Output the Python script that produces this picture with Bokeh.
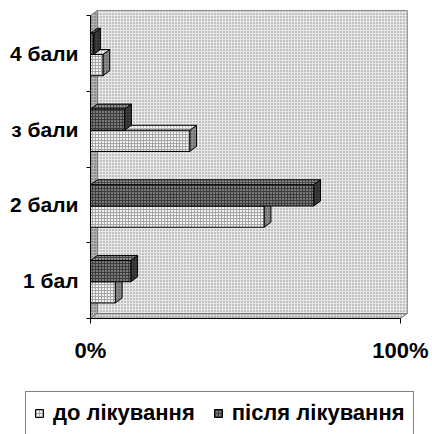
from bokeh.plotting import figure
from bokeh.models import Range1d, FixedTicker, Legend, LegendItem
from bokeh.embed import file_html
from bokeh.resources import INLINE

# Score groups (bottom to top) and share of patients in each, %
categories = ["1 бал", "2 бали", "з бали", "4 бали"]
before = [8, 56, 32, 4]      # до лікування
after = [13, 72, 11, 1]      # після лікування
series_names = ["до лікування", "після лікування"]
x_ticks = [0, 100]
x_tick_labels = ["0%", "100%"]

FONT = "Liberation Sans"
DX, DY = 2.2, 0.066          # depth offset of the 3D faces (data units)
BAR_H = 0.28                 # bar thickness within a category band

n = len(categories)
pos = list(range(1, n + 1))

# The frame fills the whole canvas; the axes are pinned at x=0 / y=0.5 so
# the tick labels and the legend all sit inside it.
p = figure(width=432, height=434, output_backend="svg", toolbar_location=None,
           x_range=Range1d(-29.03, 110.32), y_range=Range1d(-1.031, 4.698),
           min_border=0)
p.outline_line_color = None
p.grid.visible = False
p.background_fill_color = "white"
p.border_fill_color = "white"

# back wall, left side wall and floor of the 3D box
wall_style = dict(hatch_pattern=".", hatch_scale=3, hatch_weight=1)
p.patch([DX, 100 + DX, 100 + DX, DX],
        [0.5 + DY, 0.5 + DY, 4.5 + DY, 4.5 + DY],
        fill_color="#e8e8e8", hatch_color="#858585", line_color="#8c8c8c",
        line_width=1, **wall_style)
p.patch([0, 0, DX, DX], [0.5, 4.5, 4.5 + DY, 0.5 + DY],
        fill_color="#b4b4b4", hatch_color="#555555", line_color="#777777",
        line_width=1, **wall_style)
p.patch([0, 100, 100 + DX, DX], [0.5, 0.5, 0.5 + DY, 0.5 + DY],
        fill_color="#d4d4d4", hatch_color="#6a6a6a", line_color="#777777",
        line_width=1, **wall_style)


def bar3d(values, offset, front, top, side):
    centers = [c + offset for c in pos]
    lo = [c - BAR_H / 2 for c in centers]
    hi = [c + BAR_H / 2 for c in centers]
    side_xs = [[v, v, v + DX, v + DX] for v in values]
    side_ys = [[b, t, t + DY, b + DY] for b, t in zip(lo, hi)]
    top_xs = [[0, v, v + DX, DX] for v in values]
    top_ys = [[t, t, t + DY, t + DY] for t in hi]
    p.patches(side_xs, side_ys, line_color="black", line_width=1, **side)
    p.patches(top_xs, top_ys, line_color="black", line_width=1, **top)
    return p.hbar(y=centers, left=0, right=values, height=BAR_H,
                  line_color="black", line_width=1, **front)


r_before = bar3d(
    before, -0.155,
    front=dict(fill_color="#f2f2f2", hatch_pattern="+", hatch_color="#a6a6a6",
               hatch_scale=3, hatch_weight=1),
    top=dict(fill_color="#f6f6f6", hatch_pattern="+", hatch_color="#b8b8b8",
             hatch_scale=3, hatch_weight=1),
    side=dict(fill_color="#8c8c8c", hatch_pattern=".", hatch_color="#444444",
              hatch_scale=3, hatch_weight=1))

r_after = bar3d(
    after, 0.125,
    front=dict(fill_color="#7a7a7a", hatch_pattern="+", hatch_color="#3c3c3c",
               hatch_scale=3, hatch_weight=1),
    top=dict(fill_color="#8e8e8e", hatch_pattern="+", hatch_color="#4a4a4a",
             hatch_scale=3, hatch_weight=1),
    side=dict(fill_color="#3e3e3e", hatch_pattern=".", hatch_color="#111111",
              hatch_scale=3, hatch_weight=1))

# category axis: labels at band centres, tick marks at band edges
ya = p.yaxis[0]
ya.fixed_location = 0
ya.ticker = FixedTicker(ticks=pos, minor_ticks=[c - 0.5 for c in pos] + [n + 0.5])
ya.major_label_overrides = {c: lab for c, lab in zip(pos, categories)}
ya.bounds = (0.5, n + 0.5)
ya.major_tick_out = 0
ya.major_tick_in = 0
ya.minor_tick_out = 4
ya.minor_tick_in = 0
ya.minor_tick_line_color = "black"
ya.axis_line_color = "black"
ya.axis_line_width = 1
ya.major_label_standoff = 8
ya.major_label_text_font = FONT
ya.major_label_text_font_style = "bold"
ya.major_label_text_font_size = "21px"
ya.major_label_text_color = "black"

xa = p.xaxis[0]
xa.fixed_location = 0.5
xa.ticker = FixedTicker(ticks=x_ticks, minor_ticks=[])
xa.major_label_overrides = {t: lab for t, lab in zip(x_ticks, x_tick_labels)}
xa.bounds = (0, 100)
xa.major_tick_out = 5
xa.major_tick_in = 0
xa.major_tick_line_color = "black"
xa.axis_line_color = "black"
xa.axis_line_width = 1
xa.major_label_standoff = 14
xa.major_label_text_font = FONT
xa.major_label_text_font_style = "bold"
xa.major_label_text_font_size = "22px"
xa.major_label_text_color = "black"

legend = Legend(
    items=[LegendItem(label=series_names[0], renderers=[r_before]),
           LegendItem(label=series_names[1], renderers=[r_after])],
    orientation="horizontal", location=(25, -1),
    label_text_font=FONT, label_text_font_style="bold",
    label_text_font_size="22px", label_text_color="black",
    glyph_width=10, glyph_height=10, label_standoff=9, spacing=18,
    padding=8, margin=0, border_line_color="black", border_line_width=1.5,
    background_fill_color="white", background_fill_alpha=1.0)
p.add_layout(legend)

open("out.html", "w").write(file_html(p, INLINE))
